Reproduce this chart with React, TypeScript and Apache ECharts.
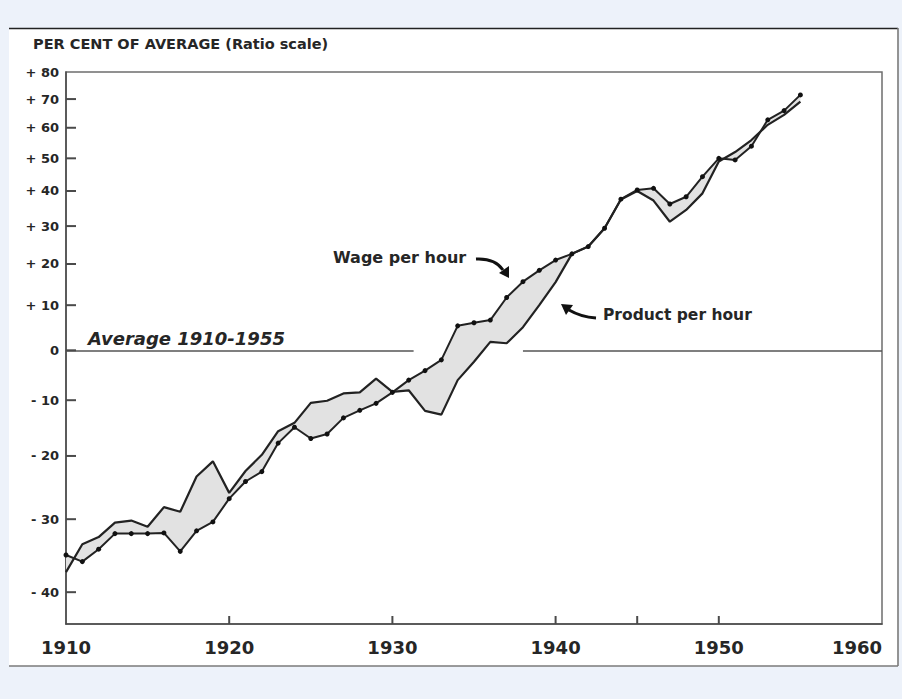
import React, { useEffect, useRef } from "react";
import * as echarts from "echarts";

const years = [
  1910, 1911, 1912, 1913, 1914, 1915, 1916, 1917, 1918, 1919,
  1920, 1921, 1922, 1923, 1924, 1925, 1926, 1927, 1928, 1929,
  1930, 1931, 1932, 1933, 1934, 1935, 1936, 1937, 1938, 1939,
  1940, 1941, 1942, 1943, 1944, 1945, 1946, 1947, 1948, 1949,
  1950, 1951, 1952, 1953, 1954, 1955,
];

// Per cent of 1910-1955 average
const wagePerHour = [
  -35.1, -36.0, -34.3, -32.1, -32.1, -32.1, -32.0, -34.6, -31.7, -30.4,
  -26.9, -24.2, -22.6, -17.8, -15.0, -17.0, -16.2, -13.3, -11.9, -10.6,
  -8.5, -6.1, -4.2, -2.0, 5.3, 6.0, 6.6, 11.8, 15.6, 18.4,
  21.0, 22.6, 24.5, 29.4, 37.6, 40.3, 40.8, 36.2, 38.3, 44.3,
  50.0, 49.5, 53.9, 62.7, 65.9, 71.5,
];

const productPerHour = [
  -37.4, -33.6, -32.6, -30.5, -30.2, -31.1, -28.2, -28.9, -23.4, -20.9,
  -26.0, -22.5, -19.8, -15.7, -14.2, -10.5, -10.1, -8.7, -8.5, -5.8,
  -8.4, -8.1, -12.0, -12.7, -6.1, -2.4, 1.8, 1.5, 5.0, 10.0,
  15.5, 22.6, 24.5, 29.4, 37.5, 40.0, 37.2, 31.2, 34.5, 39.3,
  49.0, 52.0, 55.9, 61.0, 64.4, 69.1,
];

const yTickPct = [80, 70, 60, 50, 40, 30, 20, 10, 0, -10, -20, -30, -40];
const yTickLabels = [
  "+ 80", "+ 70", "+ 60", "+ 50", "+ 40", "+ 30", "+ 20", "+ 10",
  "0", "- 10", "- 20", "- 30", "- 40",
];
const xTickMarks = [1920, 1930, 1940, 1945, 1950];

const toLog = (p: number) => Math.log10(100 + p);

export default function App() {
  const ref = useRef<HTMLDivElement>(null);

  useEffect(() => {
    if (!ref.current) return;
    const chart = echarts.init(ref.current, undefined, { renderer: "svg" });

    const wageLog = wagePerHour.map(toLog);
    const prodLog = productPerHour.map(toLog);
    const yTickVals = yTickPct.map(toLog);
    const yMin = Math.log10(56.1);
    const yMax = Math.log10(180);
    const font = "DejaVu Sans, sans-serif";
    const ink = "#262626";
    const axisInk = "#4a4a4a";

    const option: any = {
      animation: false,
      backgroundColor: "#edf2fa",
      grid: {
        left: 66,
        right: 20,
        top: 72,
        bottom: 75,
        show: true,
        borderColor: "#6e6e6e",
        borderWidth: 1.5,
      },
      graphic: [
        {
          type: "rect",
          z: -100,
          shape: { x: 9, y: 28, width: 889, height: 638 },
          style: { fill: "#ffffff" },
        },
        {
          type: "line",
          z: -99,
          shape: { x1: 9, y1: 28.5, x2: 898, y2: 28.5 },
          style: { stroke: "#222", lineWidth: 1.6 },
        },
        {
          type: "line",
          z: -99,
          shape: { x1: 9, y1: 666, x2: 898, y2: 666 },
          style: { stroke: "#7a7a7a", lineWidth: 1.6 },
        },
        {
          type: "line",
          z: -99,
          shape: { x1: 898, y1: 28, x2: 898, y2: 666 },
          style: { stroke: "#7a7a7a", lineWidth: 1.6 },
        },
        {
          type: "text",
          left: 33,
          top: 36,
          style: {
            text: "PER CENT OF AVERAGE (Ratio scale)",
            font: `bold 14.5px ${font}`,
            fill: ink,
          },
        },
        {
          type: "text",
          left: 88,
          top: 329,
          style: {
            text: "Average 1910-1955",
            font: `italic bold 18px ${font}`,
            fill: ink,
          },
        },
        {
          type: "text",
          left: 333,
          top: 249,
          style: {
            text: "Wage per hour",
            font: `bold 16px ${font}`,
            fill: ink,
          },
        },
        {
          type: "text",
          left: 603,
          top: 307,
          style: {
            text: "Product per hour",
            font: `bold 15.5px ${font}`,
            fill: ink,
          },
        },
        {
          type: "bezierCurve",
          shape: { x1: 476, y1: 259, cpx1: 495, cpy1: 258, x2: 503, y2: 270 },
          style: { stroke: "#111", lineWidth: 3, fill: null },
        },
        {
          type: "polygon",
          shape: { points: [[509, 278], [509, 266], [499, 273]] },
          style: { fill: "#111" },
        },
        {
          type: "bezierCurve",
          shape: { x1: 596, y1: 318, cpx1: 581, cpy1: 317, x2: 569, y2: 310 },
          style: { stroke: "#111", lineWidth: 3, fill: null },
        },
        {
          type: "polygon",
          shape: { points: [[561, 304], [573, 305], [566, 315]] },
          style: { fill: "#111" },
        },
      ],
      xAxis: {
        type: "value",
        min: 1910,
        max: 1960,
        interval: 10,
        axisLine: { show: true, lineStyle: { color: axisInk, width: 1.5 } },
        axisTick: { show: false },
        splitLine: { show: false },
        axisLabel: {
          fontFamily: font,
          fontSize: 18,
          fontWeight: "bold",
          color: ink,
          margin: 14,
          alignMaxLabel: "right",
          formatter: (v: number) => String(v),
        },
      },
      yAxis: {
        type: "value",
        min: yMin,
        max: yMax,
        axisLine: { show: true, lineStyle: { color: axisInk, width: 1.5 } },
        axisTick: { show: false },
        splitLine: { show: false },
        axisLabel: {
          customValues: yTickVals,
          fontFamily: font,
          fontSize: 13,
          fontWeight: "bold",
          color: ink,
          margin: 7,
          formatter: (v: number) => {
            const i = yTickVals.findIndex((t) => Math.abs(t - v) < 1e-6);
            return i >= 0 ? yTickLabels[i] : "";
          },
        },
      },
      series: [
        {
          type: "custom",
          name: "gap",
          coordinateSystem: "cartesian2d",
          silent: true,
          z: 1,
          data: [[years[0], wageLog[0]]],
          renderItem: (_params: any, api: any) => {
            const pts: number[][] = [];
            for (let i = 0; i < years.length; i++) {
              pts.push(api.coord([years[i], wageLog[i]]));
            }
            for (let i = years.length - 1; i >= 0; i--) {
              pts.push(api.coord([years[i], prodLog[i]]));
            }
            return {
              type: "polygon",
              shape: { points: pts },
              style: { fill: "#e2e2e2", stroke: "none" },
            };
          },
        },
        {
          type: "scatter",
          name: "y ticks",
          silent: true,
          clip: false,
          z: 6,
          symbol: "rect",
          symbolSize: [10, 2],
          symbolOffset: [5, 0],
          itemStyle: { color: axisInk, opacity: 1 },
          data: yTickVals.filter((v) => v < yMax - 1e-6).map((v) => [1910, v]),
        },
        {
          type: "scatter",
          name: "x ticks",
          silent: true,
          clip: false,
          z: 6,
          symbol: "rect",
          symbolSize: [2, 8],
          symbolOffset: [0, -4],
          itemStyle: { color: axisInk, opacity: 1 },
          data: xTickMarks.map((x) => [x, yMin]),
        },
        {
          type: "line",
          name: "Product per hour",
          z: 3,
          symbol: "none",
          data: years.map((y, i) => [y, prodLog[i]]),
          lineStyle: { color: "#222", width: 2.2 },
          markLine: {
            silent: true,
            symbol: "none",
            label: { show: false },
            lineStyle: { color: "#555", width: 1.5, type: "solid" },
            data: [
              [{ coord: [1910, toLog(0)] }, { coord: [1931.3, toLog(0)] }],
              [{ coord: [1938.0, toLog(0)] }, { coord: [1960, toLog(0)] }],
            ],
          },
        },
        {
          type: "line",
          name: "Wage per hour",
          z: 4,
          symbol: "circle",
          symbolSize: 5,
          itemStyle: { color: "#111" },
          data: years.map((y, i) => [y, wageLog[i]]),
          lineStyle: { color: "#222", width: 2 },
        },
      ],
    };

    chart.setOption(option);
    return () => chart.dispose();
  }, []);

  return (
    <div
      ref={ref}
      style={{ position: "absolute", left: 0, top: 0, width: 902, height: 699 }}
    />
  );
}
